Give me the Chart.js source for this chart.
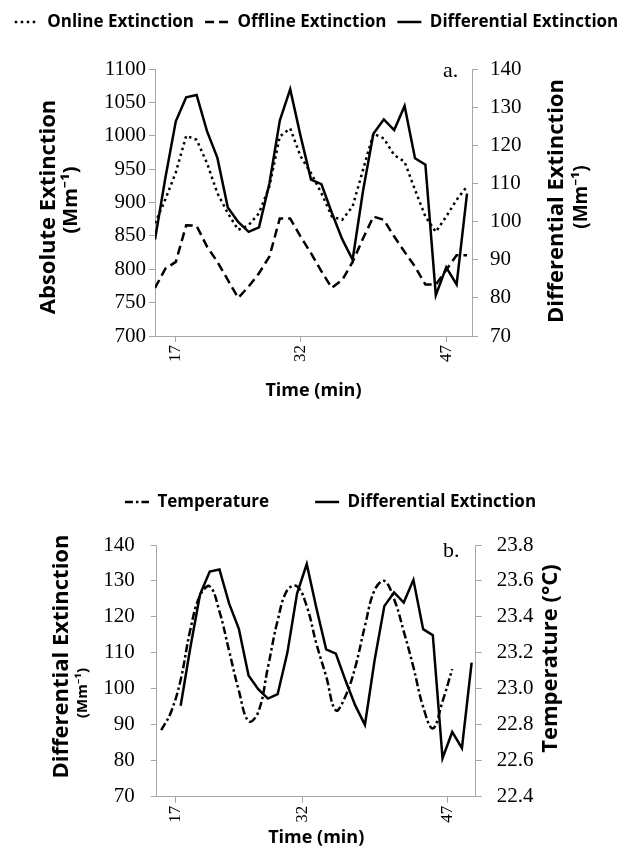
<!DOCTYPE html>
<html>
<head>
<meta charset="utf-8">
<script src="https://cdn.jsdelivr.net/npm/chart.js@4.4.1/dist/chart.umd.min.js"></script>
<style>
  body { margin: 0; background: #fff; }
  #wrap { position: relative; width: 633px; height: 852px; }
  #chartA { position: absolute; left: 0; top: 0; }
  #chartB { position: absolute; left: 0; top: 440px; }
</style>
</head>
<body>
<div id="wrap">
  <canvas id="chartA" width="633" height="410"></canvas>
  <canvas id="chartB" width="633" height="412"></canvas>
</div>
<script>
// data (one value per sample)
var xTickLabels = ["17", "32", "47"];

var onlineExt = [869, 905, 945, 1000, 994, 959, 914, 884, 859, 866, 884, 924, 999, 1011, 969, 944,
  914, 879, 874, 894, 949, 1003, 996, 971, 961, 919, 879, 856, 879, 904, 924];

var offlineExt = [772, 801, 811, 866, 865, 834, 811, 784, 757, 774, 794, 819, 876, 876, 849, 824,
  797, 772, 784, 811, 846, 879, 874, 849, 826, 804, 777, 777, 799, 821, 821];

var diffExt = [95.3, 111.5, 126.3, 132.6, 133.2, 123.7, 116.7, 103.7, 99.9, 97.3, 98.5, 110, 126.5,
  134.7, 122.4, 111, 109.8, 102.3, 95.4, 90, 108, 123, 126.8, 124, 130.3, 116.6, 114.9, 80.7, 88, 83.5, 107.3];

var temperature = [22.77, 22.87, 23.05, 23.33, 23.52, 23.57, 23.43, 23.21, 22.99, 22.82, 22.87, 23.12,
  23.38, 23.55, 23.57, 23.46, 23.25, 23.07, 22.88, 22.96, 23.12, 23.35, 23.55, 23.6, 23.5, 23.32, 23.12,
  22.9, 22.78, 22.93, 23.11];

// layout bits
var tempShift = -2;
var axisGrey = "#a6a6a6";
var sampleWidth = 24;
var serif = "'Liberation Serif', 'Times New Roman', serif";
var sans = "'Open Sans', 'Noto Sans', 'DejaVu Sans', sans-serif";

function toPoints(arr, shift) {
  return arr.map(function(v, i) { return { x: i + shift, y: v }; });
}

// vertical axis titles, panel letters and dashed legend samples
function textPlugin(items) {
  return {
    id: "sideText",
    afterDraw: function(chart) {
      var ctx = chart.ctx;
      items.forEach(function(t) {
        ctx.save();
        ctx.translate(t.x, t.y);
        if (t.rotate) ctx.rotate(-Math.PI / 2);
        ctx.font = t.font;
        ctx.fillStyle = "#000";
        ctx.textAlign = t.rotate ? "center" : "left";
        ctx.textBaseline = "alphabetic";
        ctx.fillText(t.text, 0, 0);
        ctx.restore();
      });

      // legend line samples (the built-in one ignores the dash)
      chart.legend.legendHitBoxes.forEach(function(hb, i) {
        var ds = chart.data.datasets[i];
        var y = hb.top + hb.height / 2;
        ctx.save();
        ctx.strokeStyle = "#000";
        ctx.lineWidth = ds.borderWidth;
        ctx.setLineDash(ds.borderDash || []);
        ctx.beginPath();
        ctx.moveTo(hb.left, y);
        ctx.lineTo(hb.left + sampleWidth, y);
        ctx.stroke();
        ctx.restore();
      });
    }
  };
}

function xAxis(min, max, tickPos, height, tickFont) {
  return {
    type: "linear",
    position: "bottom",
    min: min,
    max: max,
    afterBuildTicks: function(s) {
      s.ticks = tickPos.map(function(v) { return { value: v }; });
    },
    afterFit: function(s) { s.height = height; },
    ticks: {
      autoSkip: false,
      minRotation: 90,
      maxRotation: 90,
      padding: 3,
      color: "#000",
      font: { family: serif, size: tickFont },
      callback: function(value) {
        var i = tickPos.indexOf(value);
        return i >= 0 ? xTickLabels[i] : "";
      }
    },
    grid: { display: true, drawOnChartArea: false, drawTicks: true, tickLength: 6, color: axisGrey },
    border: { display: true, color: axisGrey },
    title: {
      display: true,
      text: "Time (min)",
      color: "#000",
      font: { family: sans, weight: "bold", size: 18 },
      padding: { top: 0, bottom: 2 }
    }
  };
}

function yAxis(pos, min, max, step, width, pad, fmt) {
  return {
    type: "linear",
    position: pos,
    min: min,
    max: max,
    afterFit: function(s) { s.width = width; },
    ticks: {
      stepSize: step,
      padding: pad,
      color: "#000",
      font: { family: serif, size: 21 },
      callback: fmt || function(v) { return v; }
    },
    grid: { display: true, drawOnChartArea: false, drawTicks: true, tickLength: 6, color: axisGrey },
    border: { display: true, color: axisGrey }
  };
}

function spacer(h) {
  return {
    type: "linear",
    position: "top",
    display: true,
    afterFit: function(s) { s.height = h; },
    ticks: { display: false },
    grid: { display: false },
    border: { display: false }
  };
}

function legendOpts(pad) {
  return {
    display: true,
    position: "top",
    labels: {
      usePointStyle: true,
      pointStyle: "line",
      pointStyleWidth: sampleWidth,
      padding: pad,
      color: "#000",
      font: { family: sans, weight: "bold", size: 17 },
      generateLabels: function(chart) {
        var list = Chart.defaults.plugins.legend.labels.generateLabels(chart);
        list.forEach(function(it) { it.strokeStyle = "rgba(0,0,0,0)"; });
        return list;
      }
    }
  };
}

var chartA = new Chart(document.getElementById("chartA").getContext("2d"), {
  type: "line",
  data: {
    datasets: [
      {
        label: "Online Extinction",
        data: toPoints(onlineExt, 0),
        yAxisID: "yL", xAxisID: "x",
        borderColor: "#000", borderWidth: 2.5, borderDash: [2.5, 3.5],
        pointRadius: 0, fill: false, tension: 0
      },
      {
        label: "Offline Extinction",
        data: toPoints(offlineExt, 0),
        yAxisID: "yL", xAxisID: "x",
        borderColor: "#000", borderWidth: 2.5, borderDash: [9, 5],
        pointRadius: 0, fill: false, tension: 0
      },
      {
        label: "Differential Extinction",
        data: toPoints(diffExt, 0),
        yAxisID: "yR", xAxisID: "x",
        borderColor: "#000", borderWidth: 2.5,
        pointRadius: 0, fill: false, tension: 0
      }
    ]
  },
  options: {
    responsive: false,
    maintainAspectRatio: false,
    animation: false,
    devicePixelRatio: 1,
    layout: { padding: { top: 2.5, left: 0, right: 0, bottom: 6 } },
    plugins: { legend: legendOpts(11), tooltip: { enabled: false } },
    scales: {
      x: xAxis(0, 30.48, [2, 14, 28], 68, 17),
      pad: spacer(28.5),
      yL: yAxis("left", 700, 1100, 50, 155, 3),
      yR: yAxis("right", 70, 140, 10, 161, 12)
    }
  },
  plugins: [textPlugin([
    { text: "Absolute Extinction", x: 55, y: 207, rotate: true, font: "bold 22px " + sans },
    { text: "(Mm\u207B\u00B9)", x: 77, y: 200, rotate: true, font: "bold 20px " + sans },
    { text: "Differential Extinction", x: 563, y: 201, rotate: true, font: "bold 22px " + sans },
    { text: "(Mm\u207B\u00B9)", x: 587, y: 197, rotate: true, font: "bold 19px " + sans },
    { text: "a.", x: 443, y: 77, rotate: false, font: "22px " + serif }
  ])]
});

var chartB = new Chart(document.getElementById("chartB").getContext("2d"), {
  type: "line",
  data: {
    datasets: [
      {
        label: "Temperature",
        data: toPoints(temperature, tempShift),
        yAxisID: "yR", xAxisID: "x",
        borderColor: "#000", borderWidth: 2.5, borderDash: [8, 3, 2.5, 3],
        pointRadius: 0, fill: false, tension: 0.4
      },
      {
        label: "Differential Extinction",
        data: toPoints(diffExt, 0),
        yAxisID: "yL", xAxisID: "x",
        borderColor: "#000", borderWidth: 2.5,
        pointRadius: 0, fill: false, tension: 0
      }
    ]
  },
  options: {
    responsive: false,
    maintainAspectRatio: false,
    animation: false,
    devicePixelRatio: 1,
    layout: { padding: { top: 7.5, left: 28, right: 0, bottom: 1.2 } },
    plugins: { legend: legendOpts(46), tooltip: { enabled: false } },
    scales: {
      x: xAxis(-2.47, 30.42, [-0.52, 12.55, 27.5], 54.1, 17),
      pad: spacer(24.5),
      yL: yAxis("left", 70, 140, 10, 128.7, 16),
      yR: yAxis("right", 22.4, 23.8, 0.2, 157.3, 15, function(v) { return v.toFixed(1); })
    }
  },
  plugins: [textPlugin([
    { text: "Differential Extinction", x: 68, y: 216.5, rotate: true, font: "bold 22px " + sans },
    { text: "(Mm\u207B\u00B9)", x: 87, y: 253, rotate: true, font: "bold 15px " + sans },
    { text: "Temperature (\u00B0C)", x: 557, y: 218.5, rotate: true, font: "bold 22px " + sans },
    { text: "b.", x: 443, y: 117, rotate: false, font: "22px " + serif }
  ])]
});
</script>
</body>
</html>
